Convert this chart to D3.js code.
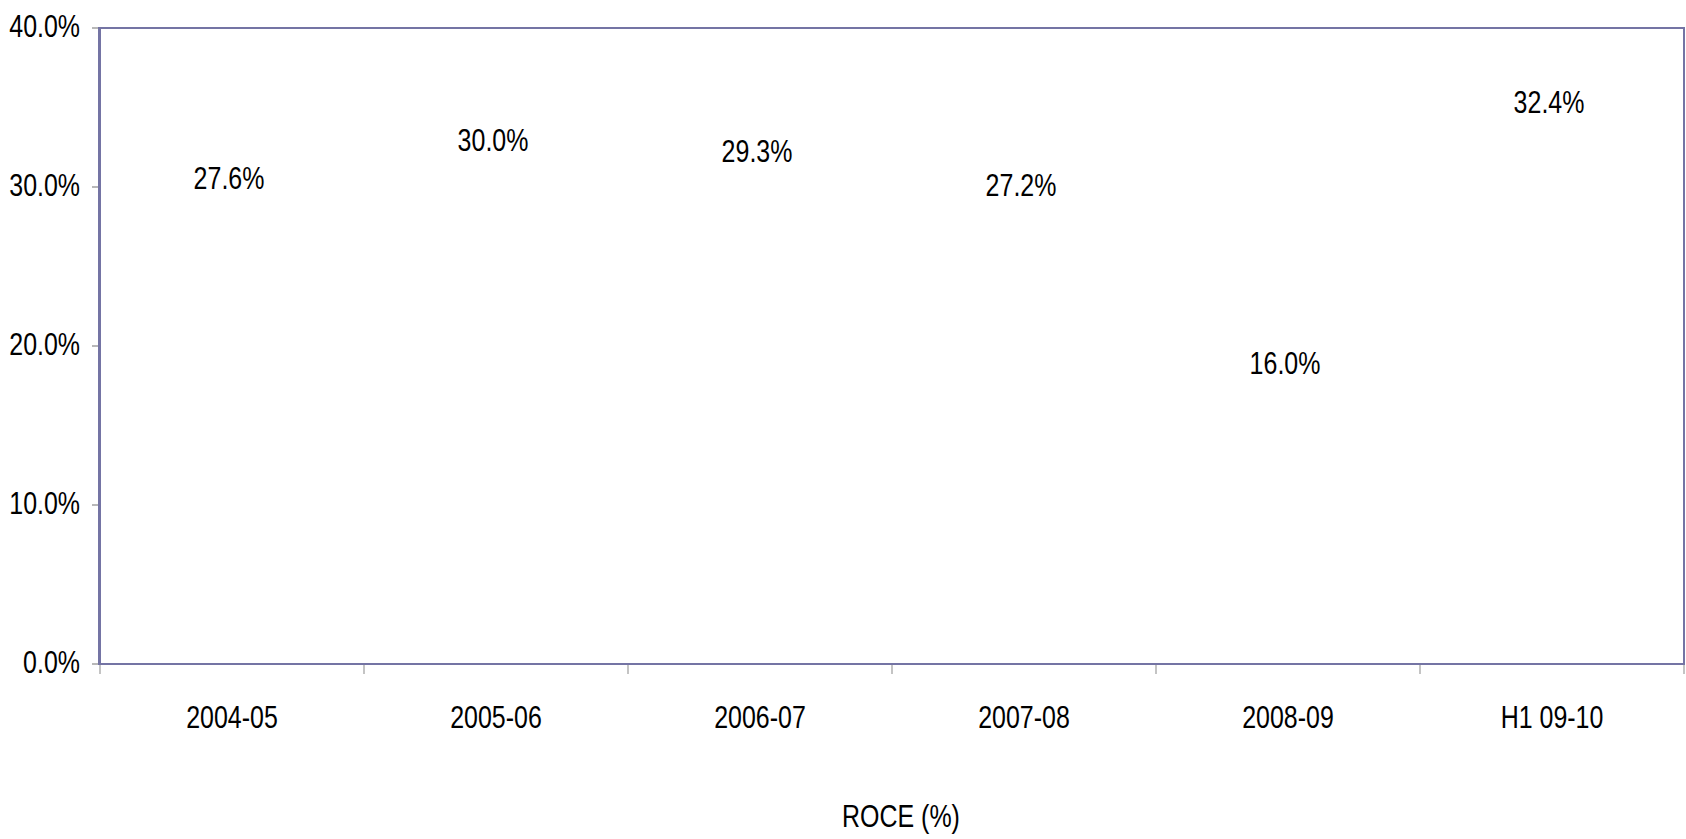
<!DOCTYPE html>
<html><head><meta charset="utf-8">
<script src="https://cdn.jsdelivr.net/npm/d3@7"></script>
<style>
html,body{margin:0;padding:0;background:#fff;}
svg{display:block;}
text{font-family:"Liberation Sans Narrow","Liberation Sans",Arial,sans-serif;fill:#000;}
</style></head>
<body>
<svg id="chart" width="1686" height="839"></svg>
<script>
const categories = ["2004-05","2005-06","2006-07","2007-08","2008-09","H1 09-10"];
const roce = [27.6, 30.0, 29.3, 27.2, 16.0, 32.4];
const yTicks = [0, 10, 20, 30, 40];
const seriesName = "ROCE (%)";

const svg = d3.select("#chart");
const L = 100, R = 1684, T = 28, B = 664;
const axisColor = "#7474a4";
const FS = 32, SX = 0.78;

const x = d3.scaleBand().domain(categories).range([L, R]);
const y = d3.scaleLinear().domain([0, 40]).range([B, T]);

function narrowText(sel, fx, fy, anchor) {
  return sel.attr("transform", (d, i) => `translate(${fx(d, i)},${fy(d, i)}) scale(${SX},1)`)
    .attr("x", 0).attr("y", 0)
    .attr("text-anchor", anchor).attr("font-size", FS);
}

// plot frame
svg.append("rect").attr("x", L).attr("y", T).attr("width", R - L).attr("height", B - T)
  .attr("fill", "none").attr("stroke", axisColor).attr("stroke-width", 2);
svg.append("line").attr("x1", L - 0.5).attr("x2", L - 0.5).attr("y1", T - 1).attr("y2", B + 1)
  .attr("stroke", axisColor).attr("stroke-width", 3);

// y axis ticks
const yAxis = svg.append("g");
yAxis.selectAll("line").data(yTicks).join("line")
  .attr("x1", L - 8).attr("x2", L - 2)
  .attr("y1", d => y(d)).attr("y2", d => y(d))
  .attr("stroke", "#a0a0a0").attr("stroke-width", 1.5);
narrowText(yAxis.selectAll("text").data(yTicks).join("text"),
  () => 80, d => y(d) + 9, "end")
  .text(d => d3.format(".1f")(d) + "%");

// x axis ticks (category boundaries)
const bounds = categories.map(c => x(c)).concat([R]);
svg.append("g").selectAll("line").data(bounds).join("line")
  .attr("x1", d => d).attr("x2", d => d)
  .attr("y1", B + 1).attr("y2", B + 10)
  .attr("stroke", "#b0b0b0").attr("stroke-width", 1.5);

narrowText(svg.append("g").selectAll("text").data(categories).join("text"),
  d => x(d) + x.bandwidth() / 2, () => 728, "middle")
  .text(d => d);

// data labels
narrowText(svg.append("g").selectAll("text").data(roce).join("text"),
  (d, i) => x(categories[i]) + x.bandwidth() / 2 - 3, d => y(d) - 36, "middle")
  .text(d => d3.format(".1f")(d) + "%");

// legend / series title
narrowText(svg.append("g").selectAll("text").data([seriesName]).join("text"),
  () => 901, () => 827, "middle")
  .text(d => d);
</script>
</body></html>
